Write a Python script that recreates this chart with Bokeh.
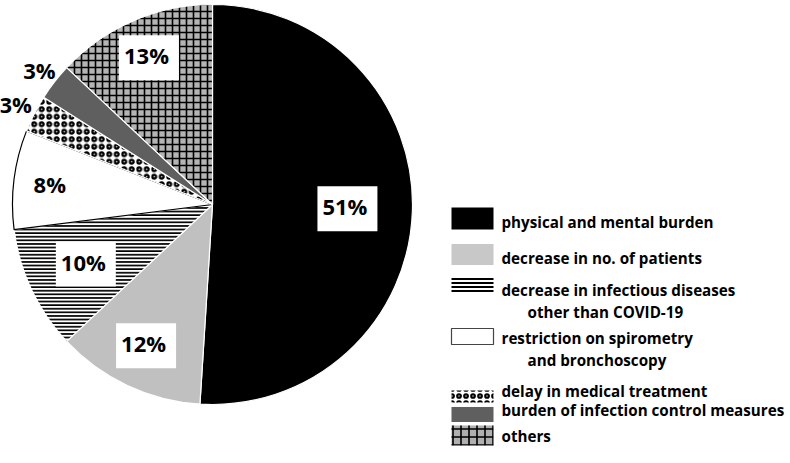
import math
from bokeh.plotting import figure
from bokeh.models import Range1d
from bokeh.core.properties import value
from bokeh.embed import file_html
from bokeh.resources import INLINE

# ---- data ----
categories = ["physical and mental burden", "decrease in no. of patients",
              "decrease in infectious diseases\nother than COVID-19",
              "restriction on spirometry\nand bronchoscopy",
              "delay in medical treatment", "burden of infection control measures",
              "others"]
percent = [51, 12, 10, 8, 3, 3, 13]
labels = ["51%", "12%", "10%", "8%", "3%", "3%", "13%"]

# ---- styles ----
fills = ["#000000", "#c0c0c0", "#ffffff", "#ffffff", "#ffffff", "#5f5f5f", "#b4b4b4"]
hatches = [" ", " ", "horizontal_line", " ", "ring", " ", "cross"]
hatch_scales = [1, 1, 3.6, 1, 7.5, 1, 7]
hatch_weights = [1, 1, 1.8, 1, 2.2, 1, 1.6]
label_r = [0.675, 0.78, 0.70, 0.82, 1.105, 1.095, 0.80]
label_box = [True, True, True, False, False, False, True]

W, H = 790, 463
cx, cy, R = 212, H - 204, 200

p = figure(width=W, height=H, output_backend="svg", toolbar_location=None,
           x_range=Range1d(0, W), y_range=Range1d(0, H), min_border=0)
p.axis.visible = False
p.grid.visible = False
p.outline_line_color = None
p.background_fill_color = "white"
p.border_fill_color = "white"

total = sum(percent)
cum = 0
for i, v in enumerate(percent):
    a0 = math.pi / 2 - 2 * math.pi * (cum + v) / total
    a1 = math.pi / 2 - 2 * math.pi * cum / total
    lc = "black" if fills[i] == "#ffffff" and hatches[i] == " " else "white"
    p.wedge(x=cx, y=cy, radius=R, start_angle=a0, end_angle=a1,
            fill_color=fills[i], line_color=lc, line_width=1.2,
            hatch_pattern=hatches[i], hatch_color="black",
            hatch_scale=hatch_scales[i], hatch_weight=hatch_weights[i])
    cum += v

# labels
cum = 0
bx, by, bt, nx, ny, nt = [], [], [], [], [], []
for i, v in enumerate(percent):
    mid = math.pi / 2 - 2 * math.pi * (cum + v / 2) / total
    x = cx + label_r[i] * R * math.cos(mid)
    y = cy + label_r[i] * R * math.sin(mid)
    if label_box[i]:
        bx.append(x); by.append(y); bt.append(labels[i])
    else:
        nx.append(x); ny.append(y); nt.append(labels[i])
    cum += v

p.text(x=bx, y=by, text=bt, text_align="center", text_baseline="middle",
       text_font=value("Open Sans"), text_font_style="bold", text_font_size="22px",
       text_color="black", background_fill_color="white", padding=[5, 10, 5, 10])
p.text(x=nx, y=ny, text=nt, text_align="center", text_baseline="middle",
       text_font=value("Open Sans"), text_font_style="bold", text_font_size="22px",
       text_color="black")

# legend
leg_y = [H - 218, H - 254, H - 284, H - 336, H - 396, H - 414, H - 435]
leg_h = [22, 21, 15, 16, 12, 15, 20]
leg_text_y = [H - 221, H - 257, H - 289, H - 337, H - 390, H - 409, H - 435]
leg_fill = ["#000000", "#c8c8c8", "#ffffff", "#ffffff", "#ffffff", "#5f5f5f", "#b0b0b0"]
leg_line = [None, None, None, "#444444", None, None, None]
leg_hscale = [1, 1, 4, 1, 7, 1, 8]
leg_hweight = [1, 1, 2, 1, 2.2, 1, 1.6]
for i in range(len(categories)):
    p.rect(x=472, y=leg_y[i], width=42, height=leg_h[i], fill_color=leg_fill[i],
           line_color=leg_line[i], line_width=1.2,
           hatch_pattern=hatches[i], hatch_color="black",
           hatch_scale=leg_hscale[i], hatch_weight=leg_hweight[i])

lx, ly, lt = [], [], []
for i, c in enumerate(categories):
    parts = c.split("\n")
    lx.append(501); ly.append(leg_text_y[i]); lt.append(parts[0])
    if len(parts) > 1:
        lx.append(527); ly.append(leg_text_y[i] - 22); lt.append(parts[1])
p.text(x=lx, y=ly, text=lt, text_align="left", text_baseline="middle",
       text_font=value("Open Sans"), text_font_style="bold", text_font_size="15.2px",
       text_color="black")

open("out.html", "w").write(file_html(p, INLINE))
